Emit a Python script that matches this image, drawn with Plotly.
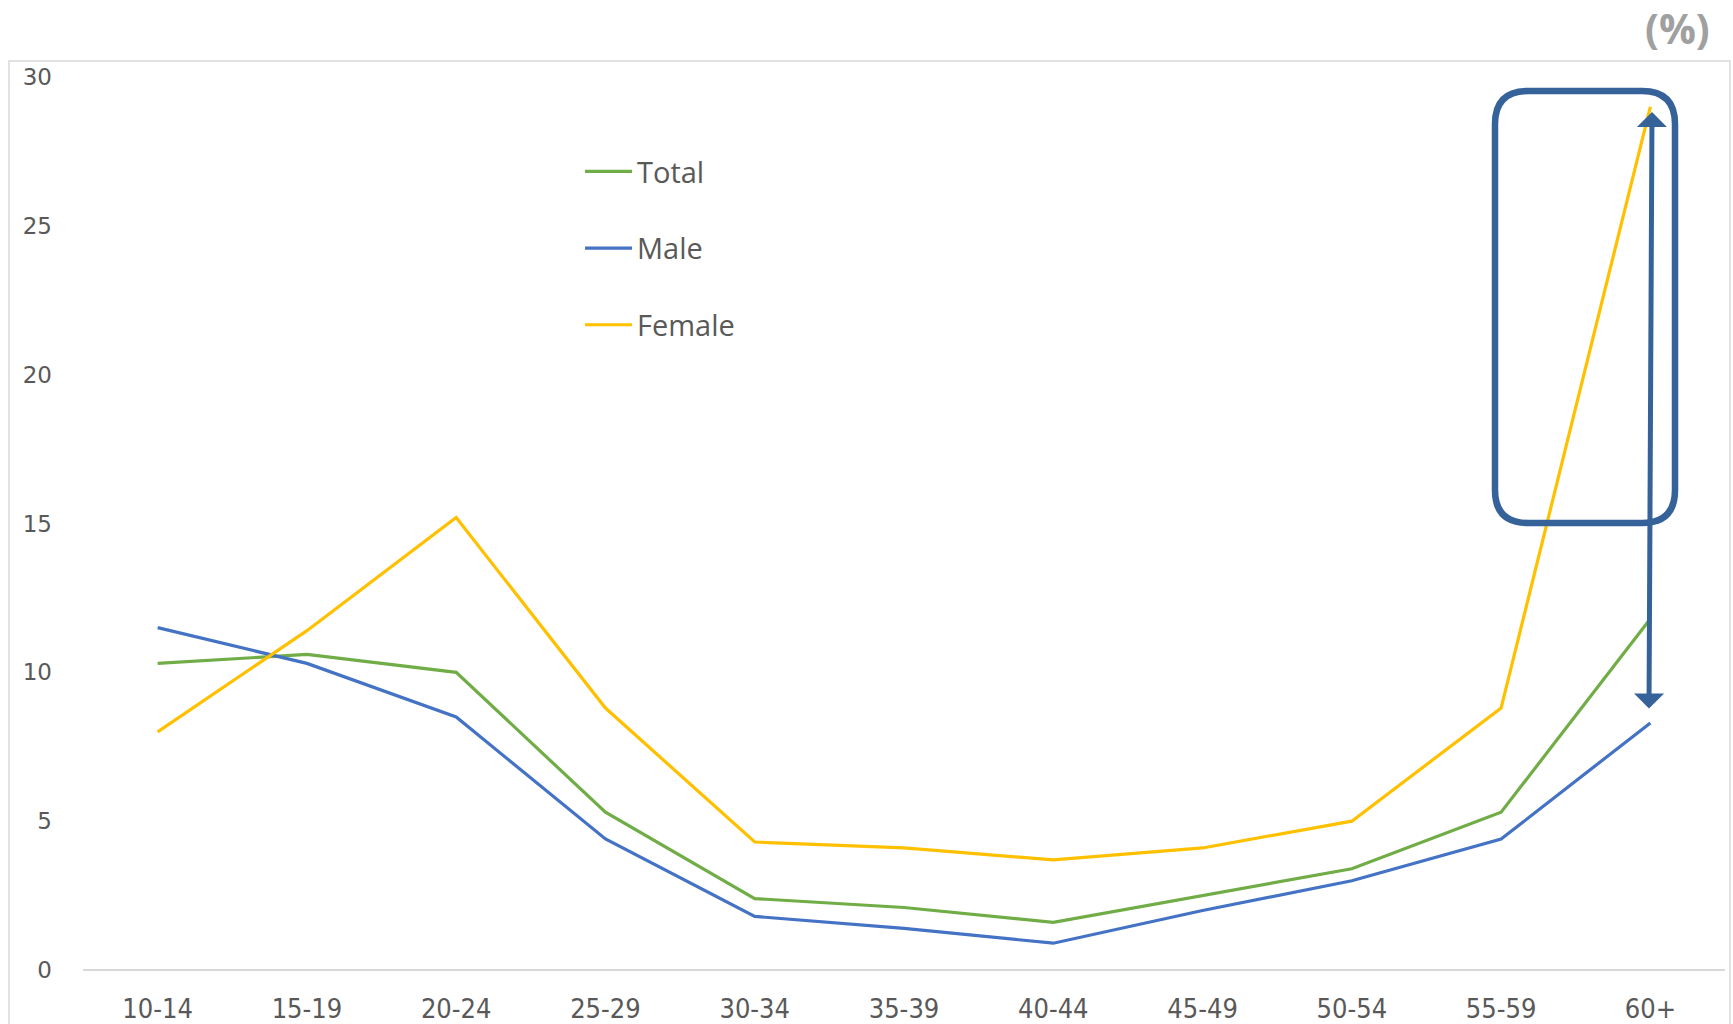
import plotly.graph_objects as go

categories = ["10-14", "15-19", "20-24", "25-29", "30-34", "35-39",
              "40-44", "45-49", "50-54", "55-59", "60+"]
total = [10.3, 10.6, 10.0, 5.3, 2.4, 2.1, 1.6, 2.5, 3.4, 5.3, 11.8]
male = [11.5, 10.3, 8.5, 4.4, 1.8, 1.4, 0.9, 2.0, 3.0, 4.4, 8.3]
female = [8.0, 11.4, 15.2, 8.8, 4.3, 4.1, 3.7, 4.1, 5.0, 8.8, 29.0]
y_ticks = [0, 5, 10, 15, 20, 25, 30]

W_PX, H_PX = 1733, 1024
L, R, T, B = 83, 1725, 77, 970
PW, PH = R - L, B - T


def px(x):
    return (x - L) / PW


def py(y):
    return (B - y) / PH


TXT = "#595959"
FONT = "DejaVu Sans"

fig = go.Figure()
fig.add_trace(go.Scatter(x=categories, y=total, name="Total", mode="lines",
                         line=dict(color="#70AD47", width=3.2), legendgroup="a"))
fig.add_trace(go.Scatter(x=categories, y=male, name="Male", mode="lines",
                         line=dict(color="#4472C4", width=3.2), legendgroup="b"))
fig.add_trace(go.Scatter(x=categories, y=female, name="Female", mode="lines",
                         line=dict(color="#FFC000", width=3.2), legendgroup="c"))

# chart outer border
fig.add_shape(type="rect", xref="paper", yref="paper",
              x0=px(9), x1=px(1730), y0=py(1040), y1=py(61),
              line=dict(color="#D9D9D9", width=1.5), layer="below")

# rounded highlight box
bx0, bx1, by0, by1 = px(1495), px(1675), py(523), py(91)
rx, ry = 33 / PW, 33 / PH
path = (f"M{bx0+rx},{by1} L{bx1-rx},{by1} Q{bx1},{by1} {bx1},{by1-ry} "
        f"L{bx1},{by0+ry} Q{bx1},{by0} {bx1-rx},{by0} "
        f"L{bx0+rx},{by0} Q{bx0},{by0} {bx0},{by0+ry} "
        f"L{bx0},{by1-ry} Q{bx0},{by1} {bx0+rx},{by1} Z")
fig.add_shape(type="path", xref="paper", yref="paper", path=path,
              line=dict(color="#36629A", width=6.5))

# double-headed arrow
fig.add_annotation(xref="paper", yref="paper", x=px(1652), y=py(112),
                   ax=-3, ay=598, text="", showarrow=True,
                   arrowside="end+start", arrowhead=1, arrowsize=1.0,
                   arrowwidth=5, arrowcolor="#36629A", standoff=0, startstandoff=0)

# unit label
fig.add_annotation(xref="paper", yref="paper", x=px(1677), y=py(28),
                   text="<b>(%)</b>", showarrow=False,
                   font=dict(family="Open Sans", size=41, color="#A0A0A0"),
                   xanchor="center", yanchor="middle")

fig.update_layout(
    width=W_PX, height=H_PX,
    margin=dict(l=L, r=W_PX - R, t=T, b=H_PX - B, autoexpand=False),
    paper_bgcolor="white", plot_bgcolor="white",
    font=dict(family=FONT, color=TXT, size=22),
    showlegend=True,
    legend=dict(x=px(580), y=py(146), xanchor="left", yanchor="top",
                orientation="v", tracegroupgap=36, itemwidth=47,
                font=dict(family="Open Sans", size=29, color=TXT),
                bgcolor="rgba(0,0,0,0)"),
    xaxis=dict(type="category", range=[-0.5, len(categories) - 0.5],
               showgrid=False, showline=False, zeroline=False,
               ticks="", ticklabelstandoff=20,
               tickfont=dict(family="DejaVu Sans Condensed, Lato", size=27, color=TXT)),
    yaxis=dict(range=[0, 30], tickvals=y_ticks, showgrid=False,
               zeroline=True, zerolinecolor="#D9D9D9", zerolinewidth=2,
               showline=False, ticks="", ticklabelstandoff=30,
               tickfont=dict(family=FONT, size=23, color=TXT)),
)

fig.write_html("out.html", config={"displayModeBar": False},
               post_script="document.body.style.margin='0';")
